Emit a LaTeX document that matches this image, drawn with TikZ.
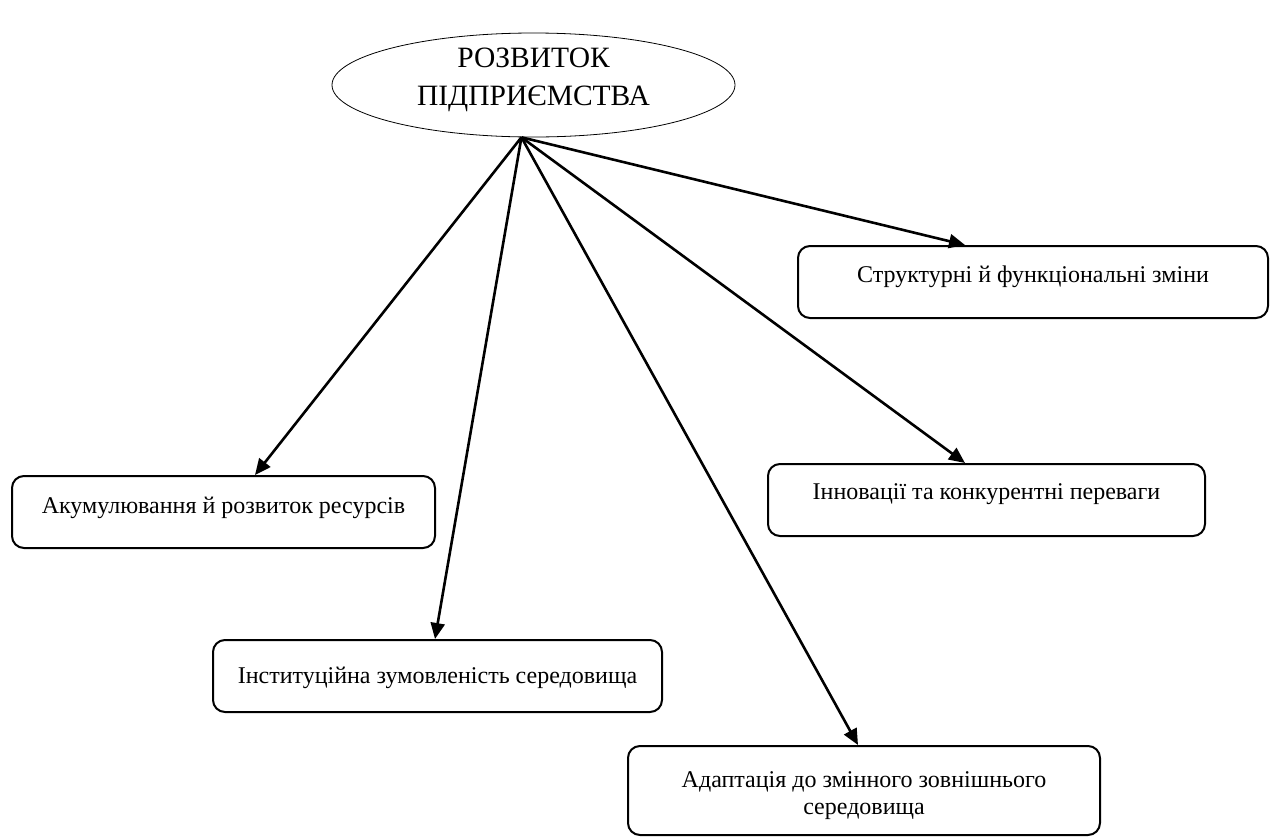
\documentclass[tikz,border=0pt]{standalone}
\usepackage{fontspec}
\setmainfont{Liberation Serif}
\usetikzlibrary{shapes.geometric,arrows.meta}
\begin{document}
\begin{tikzpicture}[x=1pt,y=-1pt,
  stagebox/.style={draw, line width=2pt, rounded corners=12pt, anchor=north,
    inner xsep=0pt, inner ysep=0pt, font=\fontsize{24}{27}\selectfont},
  link/.style={line width=2.6pt, -{Triangle[length=16pt,width=14pt]}},
]
\useasboundingbox (0,0) rectangle (1274,836);

% central concept
\node[draw, ellipse, line width=0.8pt, minimum width=403pt, minimum height=104pt,
  inner sep=0pt, text height=12.5pt, text depth=47.5pt,
  font=\fontsize{29.5}{38}\selectfont] (top) at (533.5,85)
  {\parbox[t]{260pt}{\centering РОЗВИТОК\\ПІДПРИЄМСТВА}};
\coordinate (src) at (top.257.5);

% components of development
\node[stagebox, minimum width=470pt, text height=36pt, text depth=36pt] (b1) at (1033,245)
  {Структурні й функціональні зміни};
\node[stagebox, minimum width=423pt, text height=37pt, text depth=35pt] (b2) at (223.5,475)
  {Акумулювання й розвиток ресурсів};
\node[stagebox, minimum width=437pt, text height=35pt, text depth=37pt] (b3) at (986.5,463)
  {Інновації та конкурентні переваги};
\node[stagebox, minimum width=449pt, text height=43pt, text depth=29pt] (b4) at (437.5,639)
  {Інституційна зумовленість середовища};
\node[stagebox, minimum width=472pt, text height=41pt, text depth=48pt] (b5) at (864,745)
  {\parbox[t]{460pt}{\centering Адаптація до змінного зовнішнього\\середовища}};

% connectors
\draw[link] (src) -- (965,0 |- b1.north);
\draw[link] (src) -- (255,0 |- b2.north);
\draw[link] (src) -- (965,0 |- b3.north);
\draw[link] (src) -- (435,0 |- b4.north);
\draw[link] (src) -- (858,0 |- b5.north);
\end{tikzpicture}
\end{document}
